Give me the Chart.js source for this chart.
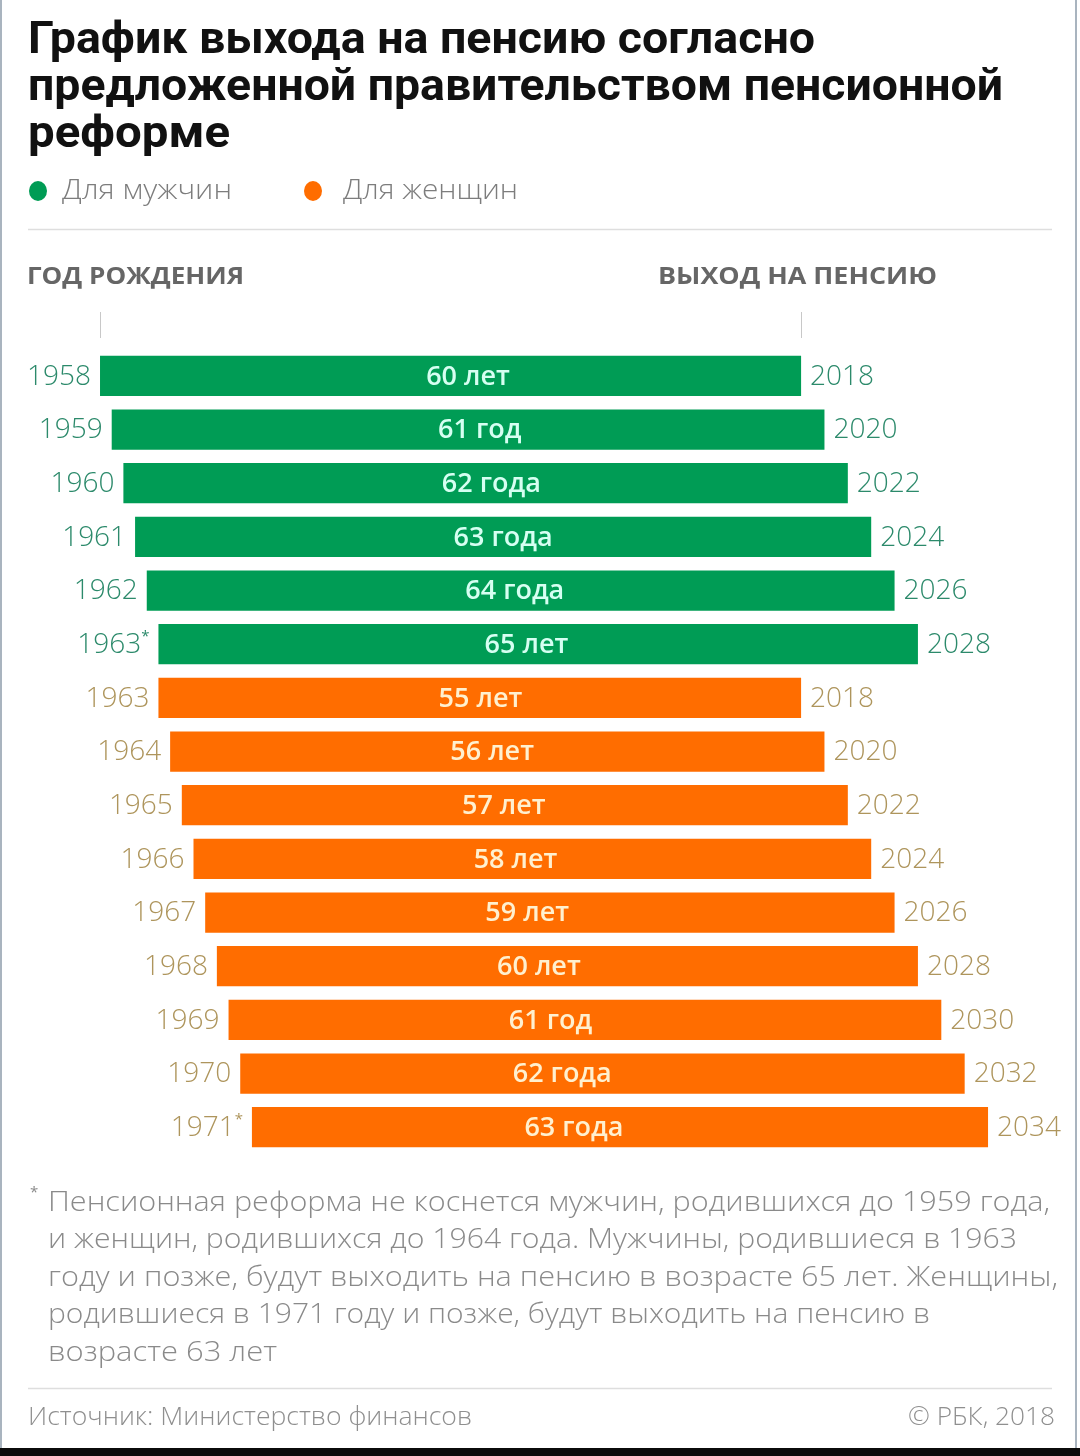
<!DOCTYPE html>
<html>
<head>
<meta charset="utf-8">
<script src="https://cdn.jsdelivr.net/npm/chart.js@4"></script>
<style>
  html, body { margin: 0; padding: 0; background: #fff; }
  canvas { display: block; }
</style>
</head>
<body>
<canvas id="c" width="1080" height="1456"></canvas>
<script>
// ---- data ----
const menBirth = [1958, 1959, 1960, 1961, 1962, 1963];
const menRetire = [2018, 2020, 2022, 2024, 2026, 2028];
const menAge = ['60 лет', '61 год', '62 года', '63 года', '64 года', '65 лет'];
const menBirthLabels = ['1958', '1959', '1960', '1961', '1962', '1963*'];

const womenBirth = [1963, 1964, 1965, 1966, 1967, 1968, 1969, 1970, 1971];
const womenRetire = [2018, 2020, 2022, 2024, 2026, 2028, 2030, 2032, 2034];
const womenAge = ['55 лет', '56 лет', '57 лет', '58 лет', '59 лет', '60 лет', '61 год', '62 года', '63 года'];
const womenBirthLabels = ['1963', '1964', '1965', '1966', '1967', '1968', '1969', '1970', '1971*'];

const titleLines = ['График выхода на пенсию согласно', 'предложенной правительством пенсионной', 'реформе'];
const legendLabels = ['Для мужчин', 'Для женщин'];
const headerLeft = 'ГОД РОЖДЕНИЯ';
const headerRight = 'ВЫХОД НА ПЕНСИЮ';
const noteLines = [
  'Пенсионная реформа не коснется мужчин, родившихся до 1959 года,',
  'и женщин, родившихся до 1964 года. Мужчины, родившиеся в 1963',
  'году и позже, будут выходить на пенсию в возрасте 65 лет. Женщины,',
  'родившиеся в 1971 году и позже, будут выходить на пенсию в',
  'возрасте 63 лет'
];
const sourceText = 'Источник: Министерство финансов';
const creditText = '© РБК, 2018';

// ---- derived ----
const rowLabels = menBirthLabels.concat(womenBirthLabels);
const nMen = menBirth.length;
const menData = rowLabels.map((_, i) => i < nMen ? [menBirth[i], menRetire[i]] : null);
const womenData = rowLabels.map((_, i) => i >= nMen ? [womenBirth[i - nMen], womenRetire[i - nMen]] : null);

const GREEN = '#009c55';
const ORANGE = '#ff6d00';
const GREEN_TXT = '#2c8a6b';
const ORANGE_TXT = '#ae955c';

function fitText(ctx, text, x, y, w, align) {
  const m = ctx.measureText(text).width;
  ctx.save();
  ctx.translate(x, y);
  ctx.scale(w / m, 1);
  ctx.textAlign = 'left';
  ctx.fillText(text, align === 'right' ? -m : 0, 0);
  ctx.restore();
}

const decor = {
  id: 'decor',
  beforeDraw(chart) {
    const ctx = chart.ctx;
    ctx.save();
    ctx.fillStyle = '#fff';
    ctx.fillRect(0, 0, chart.width, chart.height);
    ctx.restore();
  },
  afterDatasetsDraw(chart) {
    const ctx = chart.ctx;
    const xs = chart.scales.x;
    ctx.save();
    ctx.textBaseline = 'middle';
    chart.data.datasets.forEach((ds, di) => {
      const meta = chart.getDatasetMeta(di);
      const isMen = di === 0;
      meta.data.forEach((bar, i) => {
        const v = ds.data[i];
        if (!v) return;
        const k = isMen ? i : i - nMen;
        const x0 = xs.getPixelForValue(v[0]);
        const x1 = xs.getPixelForValue(v[1]);
        const y = bar.y;
        // birth label
        ctx.font = '300 28px "Open Sans", sans-serif';
        ctx.fillStyle = isMen ? GREEN_TXT : ORANGE_TXT;
        const bl = (isMen ? menBirthLabels : womenBirthLabels)[k];
        ctx.textAlign = 'right';
        if (bl.endsWith('*')) {
          ctx.font = '400 15px "Open Sans", sans-serif';
          ctx.fillText('*', x0 - 9, y - 7);
          const aw = ctx.measureText('*').width;
          ctx.font = '300 28px "Open Sans", sans-serif';
          ctx.fillText(bl.slice(0, -1), x0 - 9 - aw, y + 1);
        } else {
          ctx.fillText(bl, x0 - 9, y + 1);
        }
        // retire label
        ctx.textAlign = 'left';
        ctx.fillText(String(v[1]), x1 + 9, y + 1);
        // age label
        ctx.font = '600 27px "Open Sans", sans-serif';
        ctx.fillStyle = isMen ? '#d6fff2' : '#fff0cf';
        ctx.textAlign = 'center';
        ctx.fillText((isMen ? menAge : womenAge)[k], x0 + (isMen ? 368 : 322), y + 1);
      });
    });
    ctx.restore();
  },
  afterDraw(chart) {
    const ctx = chart.ctx;
    const xs = chart.scales.x;
    ctx.save();
    // title
    ctx.fillStyle = '#111';
    ctx.font = '700 45px Roboto, sans-serif';
    ctx.textBaseline = 'alphabetic';
    const tW = [787, 975, 202];
    const tY = [53, 100, 147];
    titleLines.forEach((t, i) => fitText(ctx, t, 28, tY[i], tW[i]));
    // legend
    ctx.fillStyle = GREEN;
    ctx.beginPath(); ctx.ellipse(38, 191, 9, 10, 0, 0, Math.PI * 2); ctx.fill();
    ctx.fillStyle = ORANGE;
    ctx.beginPath(); ctx.ellipse(313, 191, 9, 10, 0, 0, Math.PI * 2); ctx.fill();
    ctx.fillStyle = '#7d7d7d';
    ctx.font = '300 27px "Open Sans", sans-serif';
    ctx.textBaseline = 'middle';
    fitText(ctx, legendLabels[0], 62, 191, 170);
    fitText(ctx, legendLabels[1], 343, 191, 175);
    // separators
    ctx.strokeStyle = '#dedede';
    ctx.lineWidth = 1.5;
    ctx.beginPath(); ctx.moveTo(28, 229.5); ctx.lineTo(1052, 229.5); ctx.stroke();
    ctx.beginPath(); ctx.moveTo(28, 1388.5); ctx.lineTo(1052, 1388.5); ctx.stroke();
    // headers
    ctx.fillStyle = '#666';
    ctx.font = '700 24px "Open Sans", sans-serif';
    fitText(ctx, headerLeft, 27, 277, 217);
    fitText(ctx, headerRight, 658, 277, 279);
    // small ticks
    ctx.strokeStyle = '#c8c8c8';
    ctx.lineWidth = 1;
    [xs.getPixelForValue(menBirth[0]), xs.getPixelForValue(menRetire[0])].forEach(px => {
      ctx.beginPath(); ctx.moveTo(Math.round(px) + 0.5, 312); ctx.lineTo(Math.round(px) + 0.5, 338); ctx.stroke();
    });
    // footnote
    ctx.fillStyle = '#8a8a8a';
    ctx.font = '400 15px "Open Sans", sans-serif';
    ctx.textAlign = 'left';
    ctx.fillText('*', 30, 1193);
    ctx.font = '300 27px "Open Sans", sans-serif';
    const nW = [1002, 969, 1010, 882, 229];
    noteLines.forEach((t, i) => fitText(ctx, t, 48, 1203 + i * 37.5, nW[i]));
    // source
    ctx.fillStyle = '#8f8f8f';
    ctx.font = '300 25px "Open Sans", sans-serif';
    fitText(ctx, sourceText, 28, 1418, 444);
    fitText(ctx, creditText, 1055, 1418, 147, 'right');
    // frame
    ctx.fillStyle = '#a9b4bf';
    ctx.fillRect(0, 0, 2, 1448);
    ctx.fillRect(1075, 0, 2, 1448);
    ctx.fillStyle = '#0b0b0b';
    ctx.fillRect(0, 1448, 1080, 8);
    ctx.restore();
  }
};

new Chart(document.getElementById('c'), {
  type: 'bar',
  data: {
    labels: rowLabels,
    datasets: [
      { label: legendLabels[0], data: menData, backgroundColor: GREEN, grouped: false },
      { label: legendLabels[1], data: womenData, backgroundColor: ORANGE, grouped: false }
    ]
  },
  options: {
    indexAxis: 'y',
    responsive: false,
    animation: false,
    devicePixelRatio: 1,
    layout: { padding: { left: 0, right: 0, top: 349, bottom: 302 } },
    datasets: { bar: { barPercentage: 0.75, categoryPercentage: 1.0 } },
    scales: {
      x: { type: 'linear', min: 1949.44, max: 2041.87, display: false },
      y: { type: 'category', display: false }
    },
    plugins: { legend: { display: false }, tooltip: { enabled: false } }
  },
  plugins: [decor]
});
</script>
</body>
</html>
